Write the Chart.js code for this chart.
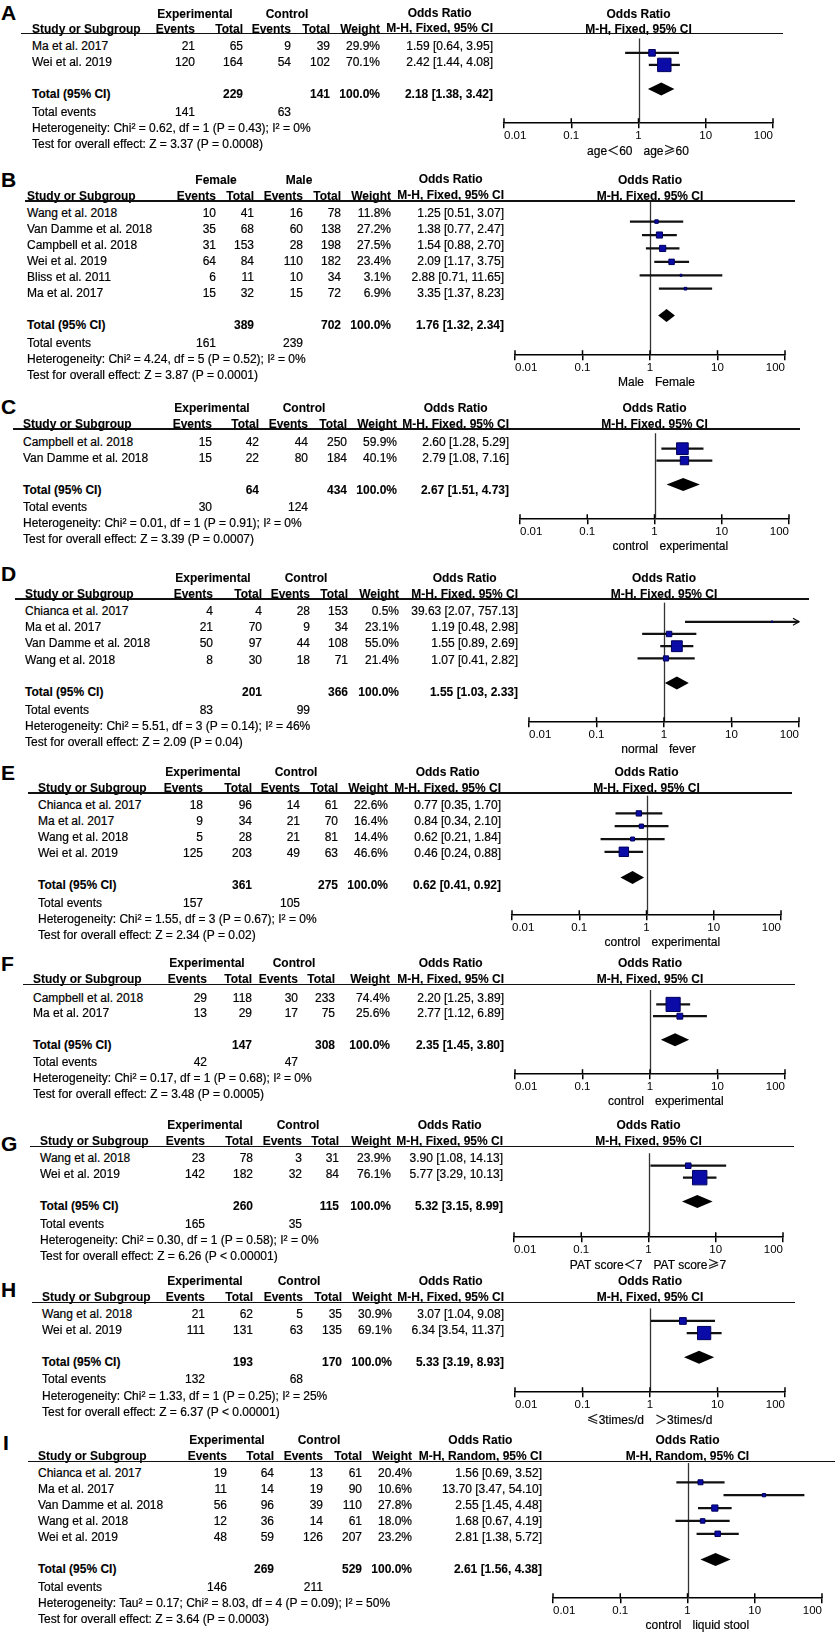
<!DOCTYPE html>
<html><head><meta charset="utf-8">
<script src="https://cdn.jsdelivr.net/npm/chart.js@4.4.1/dist/chart.umd.min.js"></script>
<style>
html,body{margin:0;padding:0;background:#fff;}
#root{position:relative;width:835px;height:1637px;overflow:hidden;font-family:"Liberation Sans",Arial,sans-serif;color:#000;}
.t{position:absolute;white-space:nowrap;font-size:12px;line-height:14px;-webkit-text-stroke:0.2px #000;}
.b{font-weight:bold;-webkit-text-stroke:0.1px #000;}
.rule{position:absolute;height:1.6px;background:#111;}
canvas{position:absolute;}
</style></head><body><div id="root"></div>
<script>
// ---------- shared axis ----------
const tickValues = [0.01, 0.1, 1, 10, 100];
const tickLabels = ['0.01', '0.1', '1', '10', '100'];
const methodFixed = 'M-H, Fixed, 95% CI';
const methodRandom = 'M-H, Random, 95% CI';
const totalWeightLabel = '100.0%';

// ---------- Panel A ----------
const studyA = ['Ma et al. 2017', 'Wei et al. 2019'];
const expEvA = [21, 120];
const expNA = [65, 164];
const ctlEvA = [9, 54];
const ctlNA = [39, 102];
const weightA = [29.9, 70.1];
const orA = [1.59, 2.42];
const loA = [0.64, 1.44];
const hiA = [3.95, 4.08];
const totalNA = [229, 141];
const pooledA = [2.18, 1.38, 3.42];
const totalEvA = [141, 63];
const statsA = ['Heterogeneity: Chi² = 0.62, df = 1 (P = 0.43); I² = 0%', 'Test for overall effect: Z = 3.37 (P = 0.0008)'];
const groupsA = ['Experimental', 'Control'];
const favoursA = ['age＜60', 'age≥60'];

// ---------- Panel B ----------
const studyB = ['Wang et al. 2018', 'Van Damme et al. 2018', 'Campbell et al. 2018', 'Wei et al. 2019', 'Bliss et al. 2011', 'Ma et al. 2017'];
const expEvB = [10, 35, 31, 64, 6, 15];
const expNB = [41, 68, 153, 84, 11, 32];
const ctlEvB = [16, 60, 28, 110, 10, 15];
const ctlNB = [78, 138, 198, 182, 34, 72];
const weightB = [11.8, 27.2, 27.5, 23.4, 3.1, 6.9];
const orB = [1.25, 1.38, 1.54, 2.09, 2.88, 3.35];
const loB = [0.51, 0.77, 0.88, 1.17, 0.71, 1.37];
const hiB = [3.07, 2.47, 2.70, 3.75, 11.65, 8.23];
const totalNB = [389, 702];
const pooledB = [1.76, 1.32, 2.34];
const totalEvB = [161, 239];
const statsB = ['Heterogeneity: Chi² = 4.24, df = 5 (P = 0.52); I² = 0%', 'Test for overall effect: Z = 3.87 (P = 0.0001)'];
const groupsB = ['Female', 'Male'];
const favoursB = ['Male', 'Female'];

// ---------- Panel C ----------
const studyC = ['Campbell et al. 2018', 'Van Damme et al. 2018'];
const expEvC = [15, 15];
const expNC = [42, 22];
const ctlEvC = [44, 80];
const ctlNC = [250, 184];
const weightC = [59.9, 40.1];
const orC = [2.60, 2.79];
const loC = [1.28, 1.08];
const hiC = [5.29, 7.16];
const totalNC = [64, 434];
const pooledC = [2.67, 1.51, 4.73];
const totalEvC = [30, 124];
const statsC = ['Heterogeneity: Chi² = 0.01, df = 1 (P = 0.91); I² = 0%', 'Test for overall effect: Z = 3.39 (P = 0.0007)'];
const groupsC = ['Experimental', 'Control'];
const favoursC = ['control', 'experimental'];

// ---------- Panel D ----------
const studyD = ['Chianca et al. 2017', 'Ma et al. 2017', 'Van Damme et al. 2018', 'Wang et al. 2018'];
const expEvD = [4, 21, 50, 8];
const expND = [4, 70, 97, 30];
const ctlEvD = [28, 9, 44, 18];
const ctlND = [153, 34, 108, 71];
const weightD = [0.5, 23.1, 55.0, 21.4];
const orD = [39.63, 1.19, 1.55, 1.07];
const loD = [2.07, 0.48, 0.89, 0.41];
const hiD = [757.13, 2.98, 2.69, 2.82];
const totalND = [201, 366];
const pooledD = [1.55, 1.03, 2.33];
const totalEvD = [83, 99];
const statsD = ['Heterogeneity: Chi² = 5.51, df = 3 (P = 0.14); I² = 46%', 'Test for overall effect: Z = 2.09 (P = 0.04)'];
const groupsD = ['Experimental', 'Control'];
const favoursD = ['normal', 'fever'];

// ---------- Panel E ----------
const studyE = ['Chianca et al. 2017', 'Ma et al. 2017', 'Wang et al. 2018', 'Wei et al. 2019'];
const expEvE = [18, 9, 5, 125];
const expNE = [96, 34, 28, 203];
const ctlEvE = [14, 21, 21, 49];
const ctlNE = [61, 70, 81, 63];
const weightE = [22.6, 16.4, 14.4, 46.6];
const orE = [0.77, 0.84, 0.62, 0.46];
const loE = [0.35, 0.34, 0.21, 0.24];
const hiE = [1.70, 2.10, 1.84, 0.88];
const totalNE = [361, 275];
const pooledE = [0.62, 0.41, 0.92];
const totalEvE = [157, 105];
const statsE = ['Heterogeneity: Chi² = 1.55, df = 3 (P = 0.67); I² = 0%', 'Test for overall effect: Z = 2.34 (P = 0.02)'];
const groupsE = ['Experimental', 'Control'];
const favoursE = ['control', 'experimental'];

// ---------- Panel F ----------
const studyF = ['Campbell et al. 2018', 'Ma et al. 2017'];
const expEvF = [29, 13];
const expNF = [118, 29];
const ctlEvF = [30, 17];
const ctlNF = [233, 75];
const weightF = [74.4, 25.6];
const orF = [2.20, 2.77];
const loF = [1.25, 1.12];
const hiF = [3.89, 6.89];
const totalNF = [147, 308];
const pooledF = [2.35, 1.45, 3.80];
const totalEvF = [42, 47];
const statsF = ['Heterogeneity: Chi² = 0.17, df = 1 (P = 0.68); I² = 0%', 'Test for overall effect: Z = 3.48 (P = 0.0005)'];
const groupsF = ['Experimental', 'Control'];
const favoursF = ['control', 'experimental'];

// ---------- Panel G ----------
const studyG = ['Wang et al. 2018', 'Wei et al. 2019'];
const expEvG = [23, 142];
const expNG = [78, 182];
const ctlEvG = [3, 32];
const ctlNG = [31, 84];
const weightG = [23.9, 76.1];
const orG = [3.90, 5.77];
const loG = [1.08, 3.29];
const hiG = [14.13, 10.13];
const totalNG = [260, 115];
const pooledG = [5.32, 3.15, 8.99];
const totalEvG = [165, 35];
const statsG = ['Heterogeneity: Chi² = 0.30, df = 1 (P = 0.58); I² = 0%', 'Test for overall effect: Z = 6.26 (P < 0.00001)'];
const groupsG = ['Experimental', 'Control'];
const favoursG = ['PAT score＜7', 'PAT score≥7'];

// ---------- Panel H ----------
const studyH = ['Wang et al. 2018', 'Wei et al. 2019'];
const expEvH = [21, 111];
const expNH = [62, 131];
const ctlEvH = [5, 63];
const ctlNH = [35, 135];
const weightH = [30.9, 69.1];
const orH = [3.07, 6.34];
const loH = [1.04, 3.54];
const hiH = [9.08, 11.37];
const totalNH = [193, 170];
const pooledH = [5.33, 3.19, 8.93];
const totalEvH = [132, 68];
const statsH = ['Heterogeneity: Chi² = 1.33, df = 1 (P = 0.25); I² = 25%', 'Test for overall effect: Z = 6.37 (P < 0.00001)'];
const groupsH = ['Experimental', 'Control'];
const favoursH = ['≤3times/d', '＞3times/d'];

// ---------- Panel I ----------
const studyI = ['Chianca et al. 2017', 'Ma et al. 2017', 'Van Damme et al. 2018', 'Wang et al. 2018', 'Wei et al. 2019'];
const expEvI = [19, 11, 56, 12, 48];
const expNI = [64, 14, 96, 36, 59];
const ctlEvI = [13, 19, 39, 14, 126];
const ctlNI = [61, 90, 110, 61, 207];
const weightI = [20.4, 10.6, 27.8, 18.0, 23.2];
const orI = [1.56, 13.70, 2.55, 1.68, 2.81];
const loI = [0.69, 3.47, 1.45, 0.67, 1.38];
const hiI = [3.52, 54.10, 4.48, 4.19, 5.72];
const totalNI = [269, 529];
const pooledI = [2.61, 1.56, 4.38];
const totalEvI = [146, 211];
const statsI = ['Heterogeneity: Tau² = 0.17; Chi² = 8.03, df = 4 (P = 0.09); I² = 50%', 'Test for overall effect: Z = 3.64 (P = 0.0003)'];
const groupsI = ['Experimental', 'Control'];
const favoursI = ['control', 'liquid stool'];

// ---------- panel table built from the arrays ----------
const panels = [
  {id:'A', study:studyA, expEv:expEvA, expN:expNA, ctlEv:ctlEvA, ctlN:ctlNA, weight:weightA, or:orA, lo:loA, hi:hiA, totalN:totalNA, pooled:pooledA, totalEv:totalEvA, stats:statsA, groups:groupsA, favours:favoursA, method:methodFixed},
  {id:'B', study:studyB, expEv:expEvB, expN:expNB, ctlEv:ctlEvB, ctlN:ctlNB, weight:weightB, or:orB, lo:loB, hi:hiB, totalN:totalNB, pooled:pooledB, totalEv:totalEvB, stats:statsB, groups:groupsB, favours:favoursB, method:methodFixed},
  {id:'C', study:studyC, expEv:expEvC, expN:expNC, ctlEv:ctlEvC, ctlN:ctlNC, weight:weightC, or:orC, lo:loC, hi:hiC, totalN:totalNC, pooled:pooledC, totalEv:totalEvC, stats:statsC, groups:groupsC, favours:favoursC, method:methodFixed},
  {id:'D', study:studyD, expEv:expEvD, expN:expND, ctlEv:ctlEvD, ctlN:ctlND, weight:weightD, or:orD, lo:loD, hi:hiD, totalN:totalND, pooled:pooledD, totalEv:totalEvD, stats:statsD, groups:groupsD, favours:favoursD, method:methodFixed},
  {id:'E', study:studyE, expEv:expEvE, expN:expNE, ctlEv:ctlEvE, ctlN:ctlNE, weight:weightE, or:orE, lo:loE, hi:hiE, totalN:totalNE, pooled:pooledE, totalEv:totalEvE, stats:statsE, groups:groupsE, favours:favoursE, method:methodFixed},
  {id:'F', study:studyF, expEv:expEvF, expN:expNF, ctlEv:ctlEvF, ctlN:ctlNF, weight:weightF, or:orF, lo:loF, hi:hiF, totalN:totalNF, pooled:pooledF, totalEv:totalEvF, stats:statsF, groups:groupsF, favours:favoursF, method:methodFixed},
  {id:'G', study:studyG, expEv:expEvG, expN:expNG, ctlEv:ctlEvG, ctlN:ctlNG, weight:weightG, or:orG, lo:loG, hi:hiG, totalN:totalNG, pooled:pooledG, totalEv:totalEvG, stats:statsG, groups:groupsG, favours:favoursG, method:methodFixed},
  {id:'H', study:studyH, expEv:expEvH, expN:expNH, ctlEv:ctlEvH, ctlN:ctlNH, weight:weightH, or:orH, lo:loH, hi:hiH, totalN:totalNH, pooled:pooledH, totalEv:totalEvH, stats:statsH, groups:groupsH, favours:favoursH, method:methodFixed},
  {id:'I', study:studyI, expEv:expEvI, expN:expNI, ctlEv:ctlEvI, ctlN:ctlNI, weight:weightI, or:orI, lo:loI, hi:hiI, totalN:totalNI, pooled:pooledI, totalEv:totalEvI, stats:statsI, groups:groupsI, favours:favoursI, method:methodRandom}
];

// ---------- layout (positions only) ----------
const layouts = {
  A:{letterY:12.5, hdrY:33.3, grpDy:-19.5, colDy:-4.5, row0:43.3, sp:16.1, axisY:123, name:32, ev:195, n:243, cev:291, cn:330, w:380, orR:493, x001:504, x100:773, lineL:21, lineR:783},
  B:{letterY:179, hdrY:201, grpDy:-21, colDy:-5.5, row0:210, sp:16.1, axisY:355, name:27, ev:216, n:254, cev:303, cn:341, w:391, orR:504, x001:515, x100:785, lineL:25, lineR:795},
  C:{letterY:406, hdrY:429, grpDy:-21.5, colDy:-5.5, row0:439.3, sp:15.9, axisY:519, name:23, ev:212, n:259, cev:308, cn:347, w:397, orR:509, x001:520, x100:789, lineL:13, lineR:800},
  D:{letterY:573, hdrY:599, grpDy:-21.5, colDy:-5.5, row0:608, sp:16.3, axisY:722, name:25, ev:213, n:262, cev:310, cn:348, w:399, orR:518, x001:529, x100:799, lineL:15, lineR:809},
  E:{letterY:772, hdrY:793, grpDy:-21.5, colDy:-5.5, row0:802.7, sp:16.0, axisY:915, name:38, ev:203, n:252, cev:300, cn:338, w:388, orR:501, x001:512, x100:781, lineL:28, lineR:792},
  F:{letterY:963, hdrY:984.5, grpDy:-21.5, colDy:-5.5, row0:995, sp:15.7, axisY:1074, name:33, ev:207, n:252, cev:298, cn:335, w:390, orR:504, x001:515, x100:785, lineL:23, lineR:795},
  G:{letterY:1143, hdrY:1146.7, grpDy:-21.7, colDy:-5.7, row0:1155.7, sp:15.9, axisY:1237, name:40, ev:205, n:253, cev:302, cn:339, w:391, orR:503, x001:514, x100:783, lineL:30, lineR:794},
  H:{letterY:1289, hdrY:1302.7, grpDy:-22, colDy:-6, row0:1311, sp:16.1, axisY:1392, name:42, ev:205, n:253, cev:303, cn:342, w:392, orR:504, x001:515, x100:785, lineL:32, lineR:795},
  I:{letterY:1442, hdrY:1461.7, grpDy:-21.7, colDy:-5.7, row0:1470, sp:16.1, axisY:1598, name:38, ev:227, n:274, cev:323, cn:362, w:412, orR:542, x001:553, x100:822, lineL:28, lineR:835}
};

Chart.defaults.font.family = '"Liberation Sans", Arial, sans-serif';
Chart.defaults.color = '#000';

const root = document.getElementById('root');
function esc(s) { return s.replace(/&/g, '&amp;').replace(/</g, '&lt;').replace(/>/g, '&gt;'); }
function txt(s, x, y, align, bold, size) {
  size = size || 12;
  const lh = Math.round(size * 1.2);
  const off = (lh - 1.117 * size) / 2 + 0.547 * size;
  const d = document.createElement('div');
  d.className = 't' + (bold ? ' b' : '');
  d.style.fontSize = size + 'px';
  d.style.lineHeight = lh + 'px';
  const str = String(s);
  if (/[＜＞≤≥]/.test(str)) {
    d.innerHTML = esc(str).replace(/([＜＞≤≥])/g, '<span style="font-family:\'Noto Sans CJK SC\'">$1</span>');
  } else {
    d.textContent = str;
  }
  d.style.top = (y - off) + 'px';
  if (align === 'right') { d.style.left = (x - 400) + 'px'; d.style.width = '400px'; d.style.textAlign = 'right'; }
  else if (align === 'center') { d.style.left = (x - 200) + 'px'; d.style.width = '400px'; d.style.textAlign = 'center'; }
  else d.style.left = x + 'px';
  root.appendChild(d);
}
const f2 = v => v.toFixed(2);
const orText = (o, l, h) => f2(o) + ' [' + f2(l) + ', ' + f2(h) + ']';

function forestPlugin(P) {
  return {
    id: 'forest' + P.id,
    beforeDatasetsDraw(chart) {
      const {ctx, chartArea: ca, scales: {x}} = chart;
      const px = Math.round(x.getPixelForValue(1)) + 0.5;
      ctx.save();
      ctx.strokeStyle = '#333'; ctx.lineWidth = 1.3;
      ctx.beginPath(); ctx.moveTo(px, ca.top); ctx.lineTo(px, ca.bottom); ctx.stroke();
      ctx.restore();
    },
    afterDatasetsDraw(chart) {
      const {ctx, scales: {x, y}} = chart;
      ctx.save();
      ctx.strokeStyle = '#111'; ctx.lineWidth = 1.3;
      P.hi.forEach((h, i) => {
        if (h > x.max) {
          const xe = x.getPixelForValue(x.max), yy = y.getPixelForValue(i);
          ctx.beginPath(); ctx.moveTo(xe - 6, yy - 3.5); ctx.lineTo(xe, yy); ctx.lineTo(xe - 6, yy + 3.5); ctx.stroke();
        }
      });
      const yd = y.getPixelForValue(P.or.length + 1);
      const xl = x.getPixelForValue(P.pooled[1]);
      const xm = x.getPixelForValue(P.pooled[0]);
      const xr = x.getPixelForValue(P.pooled[2]);
      ctx.fillStyle = '#000';
      ctx.beginPath();
      ctx.moveTo(xl, yd); ctx.lineTo(xm, yd - 6.5); ctx.lineTo(xr, yd); ctx.lineTo(xm, yd + 6.5);
      ctx.closePath(); ctx.fill();
      ctx.restore();
    },
    afterDraw(chart) {
      const {ctx, chartArea: ca, scales: {x}} = chart;
      ctx.save();
      ctx.strokeStyle = '#000'; ctx.lineWidth = 1.5;
      x.ticks.forEach(t => {
        const px = x.getPixelForValue(t.value);
        ctx.beginPath(); ctx.moveTo(px, ca.bottom); ctx.lineTo(px, ca.bottom - 5); ctx.stroke();
      });
      ctx.restore();
    }
  };
}

const PADX = 14, PADT = 6;
function buildPanel(P, L) {
  // ---- chart ----
  const cv = document.createElement('canvas');
  const W = Math.round(L.x100 - L.x001) + 2 * PADX;
  const H = Math.round(L.axisY - L.hdrY) + PADT + 22;
  cv.width = W; cv.height = H;
  cv.style.left = (L.x001 - PADX) + 'px';
  cv.style.top = (L.hdrY - PADT) + 'px';
  cv.style.width = W + 'px'; cv.style.height = H + 'px';
  root.appendChild(cv);
  const idx = P.or.map((_, i) => i);
  const sides = P.weight.map(w => 1.5 + 0.17 * w);
  const chart = new Chart(cv, {
    type: 'scatter',
    data: {
      datasets: [
        {type: 'bar', indexAxis: 'y', data: idx.map(i => ({x: [P.lo[i], P.hi[i]], y: i})),
         backgroundColor: '#111', borderWidth: 0, barThickness: 1.6,
         clip: {left: 0, right: 0, top: false, bottom: false}, order: 2},
        {type: 'scatter', data: idx.map(i => ({x: P.or[i], y: i})),
         pointStyle: 'rect', pointRadius: sides.map(s => s / Math.SQRT2), pointHoverRadius: sides.map(s => s / Math.SQRT2),
         backgroundColor: '#0b0ba8', borderColor: '#00005c', borderWidth: 1, order: 1}
      ]
    },
    options: {
      responsive: false, animation: false, events: [],
      layout: {padding: {left: PADX, right: PADX, top: PADT, bottom: 2}},
      plugins: {legend: {display: false}, tooltip: {enabled: false}},
      scales: {
        x: {type: 'logarithmic', position: 'bottom', min: tickValues[0], max: tickValues[tickValues.length - 1],
            afterBuildTicks: s => { s.ticks = tickValues.map(v => ({value: v})); },
            border: {display: true, color: '#000', width: 1.6},
            grid: {display: true, drawOnChartArea: false, drawTicks: true, tickLength: 5, color: '#000', lineWidth: 1.5},
            ticks: {align: 'inner', autoSkip: false, maxRotation: 0, minRotation: 0, padding: 1, color: '#000',
                    font: {size: 11.5}, callback: v => tickLabels[tickValues.indexOf(v)]}},
        y: {type: 'linear', display: false, reverse: true,
            min: (L.hdrY - L.row0) / L.sp, max: (L.axisY - L.row0) / L.sp}
      }
    },
    plugins: [forestPlugin(P)]
  });
  const ca = chart.chartArea;
  const left = L.x001 - ca.left;
  const top = L.axisY - ca.bottom;
  cv.style.left = left + 'px';
  cv.style.top = top + 'px';
  const pageTop = top + ca.top;
  chart.options.scales.y.min = (pageTop - L.row0) / L.sp;
  chart.options.scales.y.max = (L.axisY - L.row0) / L.sp;
  chart.update('none');
  const x1 = left + chart.scales.x.getPixelForValue(1);

  // ---- table text ----
  const grpY = L.hdrY + L.grpDy, colY = L.hdrY + L.colDy;
  txt(P.id, P.id === 'I' ? 3 : 1, L.letterY, 'left', true, 21);
  txt(P.groups[0], L.ev, grpY, 'center', true);
  txt(P.groups[1], L.cev - 4, grpY, 'center', true);
  txt('Study or Subgroup', L.name, colY, 'left', true);
  txt('Events', L.ev, colY, 'right', true);
  txt('Total', L.n, colY, 'right', true);
  txt('Events', L.cev, colY, 'right', true);
  txt('Total', L.cn, colY, 'right', true);
  txt('Weight', L.w, colY, 'right', true);
  const hd = document.createElement('div');
  hd.className = 't b';
  hd.style.left = (L.orR - 300) + 'px'; hd.style.width = '300px'; hd.style.textAlign = 'right';
  hd.style.lineHeight = (colY - grpY) + 'px';
  hd.style.top = (grpY - ((colY - grpY - 13.4) / 2 + 6.56)) + 'px';
  hd.innerHTML = '<span style="display:inline-block;text-align:center">Odds Ratio<br>' + esc(P.method) + '</span>';
  root.appendChild(hd);
  txt('Odds Ratio', x1, grpY, 'center', true);
  txt(P.method, x1, colY, 'center', true);
  const r = document.createElement('div');
  r.className = 'rule';
  r.style.left = L.lineL + 'px'; r.style.width = (L.lineR - L.lineL) + 'px';
  r.style.top = (L.hdrY - 0.8) + 'px';
  root.appendChild(r);
  P.study.forEach((s, i) => {
    const y = L.row0 + i * L.sp + 2.5;
    txt(s, L.name, y, 'left');
    txt(P.expEv[i], L.ev, y, 'right');
    txt(P.expN[i], L.n, y, 'right');
    txt(P.ctlEv[i], L.cev, y, 'right');
    txt(P.ctlN[i], L.cn, y, 'right');
    txt(P.weight[i].toFixed(1) + '%', L.w, y, 'right');
    txt(orText(P.or[i], P.lo[i], P.hi[i]), L.orR, y, 'right');
  });
  const ty = L.row0 + (P.or.length + 1) * L.sp + 2.5;
  txt('Total (95% CI)', L.name, ty, 'left', true);
  txt(P.totalN[0], L.n, ty, 'right', true);
  txt(P.totalN[1], L.cn, ty, 'right', true);
  txt(totalWeightLabel, L.w, ty, 'right', true);
  txt(orText(P.pooled[0], P.pooled[1], P.pooled[2]), L.orR, ty, 'right', true);
  txt('Total events', L.name, ty + 17.5, 'left');
  txt(P.totalEv[0], L.ev, ty + 17.5, 'right');
  txt(P.totalEv[1], L.cev, ty + 17.5, 'right');
  txt(P.stats[0], L.name, ty + 33.7, 'left');
  txt(P.stats[1], L.name, ty + 49.6, 'left');
  txt(P.favours[0], x1 - 6, L.axisY + 26.5, 'right');
  txt(P.favours[1], x1 + 5, L.axisY + 26.5, 'left');
}

panels.forEach(P => buildPanel(P, layouts[P.id]));
</script></body></html>
